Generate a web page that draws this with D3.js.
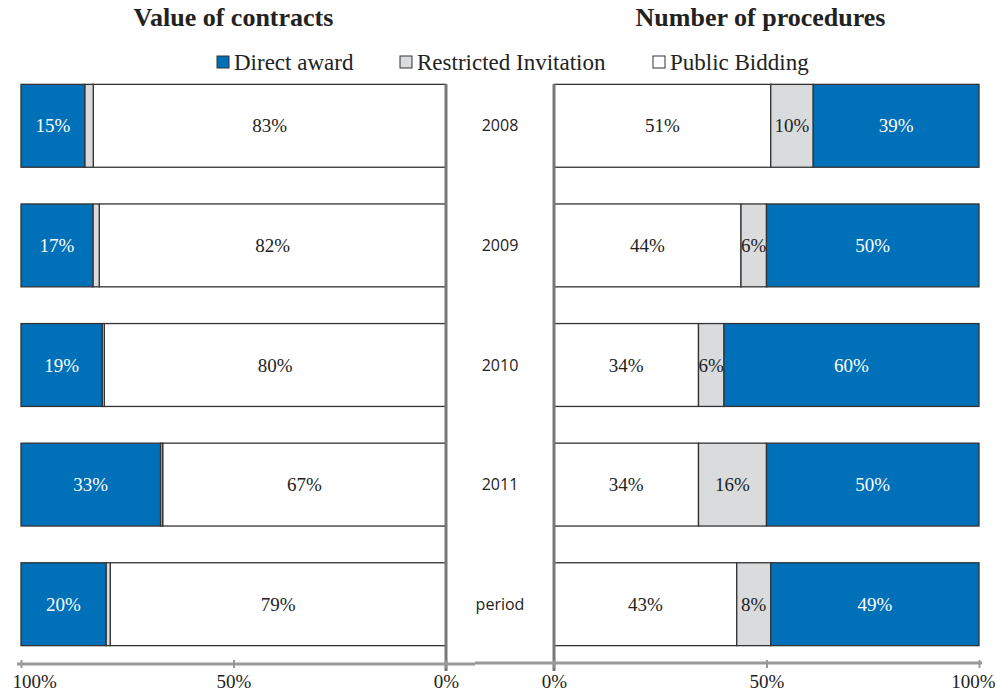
<!DOCTYPE html>
<html>
<head>
<meta charset="utf-8">
<script src="https://cdn.jsdelivr.net/npm/d3@7"></script>
<style>
  body { margin: 0; background: #fff; }
  svg text { fill: #222; }
  .serif { font-family: "Liberation Serif", "Times New Roman", serif; }
</style>
</head>
<body>
<div id="chart"></div>
<script>
var svgW = 995;
var svgH = 693;

// categories and series (percent of total per row)
var years = ["2008", "2009", "2010", "2011", "period"];
var seriesNames = ["Direct award", "Restricted Invitation", "Public Bidding"];

var valueDirect = [15, 17, 19, 33, 20];
var valueRestricted = [2, 1.5, 0.5, 0.5, 1];
var valuePublic = [83, 82, 80, 67, 79];

var procDirect = [39, 50, 60, 50, 49];
var procRestricted = [10, 6, 6, 16, 8];
var procPublic = [51, 44, 34, 34, 43];

var tickValues = [0, 0.5, 1];

var colors = {
    "Direct award": "#0070b8",
    "Restricted Invitation": "#dadbdd",
    "Public Bidding": "#ffffff"
};
var labelColors = {
    "Direct award": "#ffffff",
    "Restricted Invitation": "#222",
    "Public Bidding": "#222"
};

var svg = d3.select("#chart")
    .append("svg")
    .attr("width", svgW)
    .attr("height", svgH);

var y = d3.scaleBand()
    .domain(years)
    .range([66, 664])
    .paddingInner(0.307)
    .paddingOuter(0.1535);

var xLeft = d3.scaleLinear().domain([0, 1]).range([446, 21]);
var xRight = d3.scaleLinear().domain([0, 1]).range([554, 979]);

// build normalised stacks (like a 100% stacked bar)
function buildRows(direct, restricted, pub, order) {
    return years.map(function (yr, i) {
        var vals = {
            "Direct award": direct[i],
            "Restricted Invitation": restricted[i],
            "Public Bidding": pub[i]
        };
        var total = direct[i] + restricted[i] + pub[i];
        var acc = 0;
        return order.map(function (name) {
            var seg = { year: yr, name: name, value: vals[name], x0: acc / total };
            acc += vals[name];
            seg.x1 = acc / total;
            return seg;
        });
    });
}

// both panels stack from the 0% line outwards: public, restricted, direct
var stackOrder = ["Public Bidding", "Restricted Invitation", "Direct award"];
var leftRows = buildRows(valueDirect, valueRestricted, valuePublic, stackOrder);
var rightRows = buildRows(procDirect, procRestricted, procPublic, stackOrder);

function drawPanel(rows, x, showSmall, side) {
    var g = svg.append("g");
    var segs = [].concat.apply([], rows);

    g.selectAll("rect")
        .data(segs)
        .enter()
        .append("rect")
        .attr("x", d => Math.min(x(d.x0), x(d.x1)))
        .attr("width", d => Math.abs(x(d.x1) - x(d.x0)))
        .attr("y", d => y(d.year))
        .attr("height", y.bandwidth())
        .attr("fill", d => colors[d.name])
        .attr("stroke", "#333")
        .attr("stroke-width", 1.3);

    g.selectAll("text.lbl")
        .data(segs.filter(d => d.value >= (showSmall ? 5 : 10)))
        .enter()
        .append("text")
        .attr("class", "lbl serif")
        .attr("x", d => (x(d.x0) + x(d.x1)) / 2)
        .attr("y", d => y(d.year) + y.bandwidth() / 2)
        .attr("dy", "0.35em")
        .attr("text-anchor", "middle")
        .style("font-size", "19px")
        .style("fill", d => labelColors[d.name])
        .text(d => d.value + "%");

    // vertical 0% line
    g.append("line")
        .attr("x1", x(0)).attr("x2", x(0))
        .attr("y1", y(years[0])).attr("y2", y.range()[1] + 7)
        .attr("stroke", "#777")
        .attr("stroke-width", 3);

    // bottom axis
    var axis = d3.axisBottom(x)
        .tickValues(tickValues)
        .tickFormat(d3.format(".0%"))
        .tickSize(5)
        .tickSizeOuter(0);

    var ax = g.append("g")
        .attr("transform", `translate(0, ${y.range()[1] - 1})`)
        .call(axis);
    ax.attr("font-family", null);
    ax.select(".domain").remove();
    ax.selectAll(".tick line")
        .attr("stroke", "#999")
        .attr("stroke-width", 2)
        .attr("y1", -3);
    ax.selectAll(".tick text")
        .attr("class", "serif")
        .attr("y", 12)
        .style("font-size", "19px")
        .style("fill", "#222")
        .attr("text-anchor", function (d) {
            if (d === 1) return side === "left" ? "start" : "end";
            return "middle";
        })
        .attr("dx", function (d) {
            if (d === 1) return side === "left" ? -9 : 16;
            return 0;
        });
    return g;
}

drawPanel(leftRows, xLeft, false, "left");
drawPanel(rightRows, xRight, true, "right");

// horizontal baseline across both panels
svg.append("line")
    .attr("x1", xLeft(1) - 4).attr("x2", 475)
    .attr("y1", y.range()[1]).attr("y2", y.range()[1])
    .attr("stroke", "#999").attr("stroke-width", 3);
svg.append("line")
    .attr("x1", 475).attr("x2", xRight(1) + 3)
    .attr("y1", y.range()[1] - 1).attr("y2", y.range()[1] - 1)
    .attr("stroke", "#999").attr("stroke-width", 3);

// category labels in the middle gap
svg.selectAll("text.cat")
    .data(years)
    .enter()
    .append("text")
    .attr("class", "cat")
    .attr("x", (xLeft(0) + xRight(0)) / 2)
    .attr("y", d => y(d) + y.bandwidth() / 2)
    .attr("dy", "0.35em")
    .attr("text-anchor", "middle")
    .style("font-family", "'Open Sans', Lato, sans-serif")
    .style("font-size", "16px")
    .text(d => d);

// titles
svg.append("text")
    .attr("class", "serif")
    .attr("x", (xLeft(0) + xLeft(1)) / 2)
    .attr("y", 26)
    .attr("text-anchor", "middle")
    .style("font-size", "26px")
    .style("font-weight", "bold")
    .text("Value of contracts");

svg.append("text")
    .attr("class", "serif")
    .attr("x", (xRight(0) + xRight(1)) / 2 - 6)
    .attr("y", 26)
    .attr("text-anchor", "middle")
    .style("font-size", "26px")
    .style("font-weight", "bold")
    .text("Number of procedures");

// legend
var legendX = [217, 400, 653];
var legend = svg.selectAll("g.legend")
    .data(seriesNames)
    .enter()
    .append("g")
    .attr("class", "legend")
    .attr("transform", (d, i) => `translate(${legendX[i]}, 62)`);

legend.append("rect")
    .attr("x", 0)
    .attr("y", -6)
    .attr("width", 12)
    .attr("height", 12)
    .attr("fill", d => colors[d])
    .attr("stroke", "#333")
    .attr("stroke-width", 1);

legend.append("text")
    .attr("class", "serif")
    .attr("x", 17)
    .attr("y", 0)
    .attr("dy", "0.35em")
    .style("font-size", "23px")
    .text(d => d);
</script>
</body>
</html>
